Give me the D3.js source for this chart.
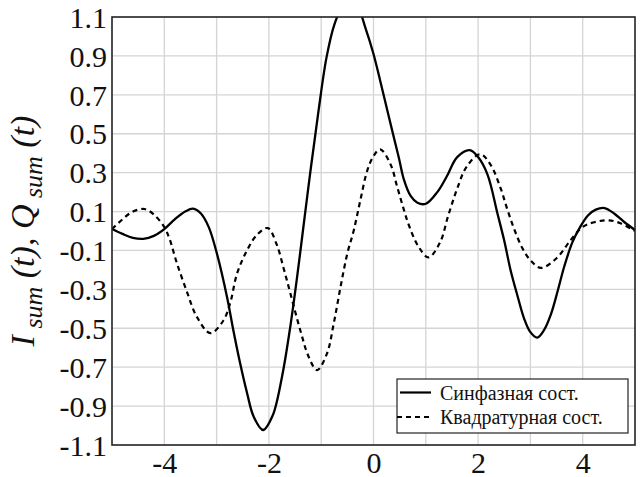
<!DOCTYPE html>
<html>
<head>
<meta charset="utf-8">
<script src="https://cdn.jsdelivr.net/npm/d3@7"></script>
<style>
  html, body { margin: 0; padding: 0; background: #fff; }
  svg { display: block; }
</style>
</head>
<body>
<svg id="chart" width="641" height="477"></svg>
<script>
// In-phase component I_sum(t): sample times and values
const tI = [-5.0, -4.8, -4.6, -4.4, -4.2, -4.0, -3.8, -3.6, -3.45, -3.3, -3.15, -3.0, -2.8, -2.68, -2.55, -2.42, -2.29, -2.11, -1.93, -1.75, -1.59, -1.46, -1.35, -1.2, -1.05, -0.9, -0.75, -0.6, -0.45, -0.3, -0.15, 0.0, 0.13, 0.26, 0.39, 0.49, 0.58, 0.71, 0.84, 1.0, 1.22, 1.4, 1.6, 1.84, 2.0, 2.18, 2.37, 2.5, 2.62, 2.75, 2.88, 3.0, 3.13, 3.26, 3.39, 3.52, 3.65, 3.8, 3.95, 4.1, 4.25, 4.42, 4.6, 4.8, 5.0];
const vI = [0.01, -0.015, -0.035, -0.04, -0.025, 0.01, 0.06, 0.1, 0.115, 0.09, 0.02, -0.11, -0.34, -0.51, -0.68, -0.83, -0.955, -1.023, -0.95, -0.75, -0.49, -0.235, 0.0, 0.32, 0.62, 0.89, 1.06, 1.15, 1.18, 1.15, 1.04, 0.91, 0.77, 0.625, 0.48, 0.37, 0.265, 0.18, 0.145, 0.14, 0.2, 0.28, 0.38, 0.416, 0.38, 0.29, 0.09, -0.05, -0.2, -0.33, -0.45, -0.52, -0.548, -0.51, -0.43, -0.31, -0.18, -0.06, 0.02, 0.08, 0.11, 0.118, 0.09, 0.045, 0.005];

// Quadrature component Q_sum(t)
const tQ = [-5.0, -4.8, -4.6, -4.38, -4.2, -4.0, -3.9, -3.76, -3.57, -3.38, -3.12, -2.87, -2.74, -2.61, -2.42, -2.23, -2.02, -1.85, -1.72, -1.59, -1.4, -1.24, -1.08, -0.89, -0.76, -0.63, -0.5, -0.38, -0.25, -0.12, 0.0, 0.13, 0.33, 0.45, 0.58, 0.68, 0.86, 1.05, 1.27, 1.43, 1.59, 1.78, 2.04, 2.24, 2.43, 2.56, 2.69, 2.85, 3.0, 3.2, 3.5, 3.76, 3.95, 4.1, 4.3, 4.5, 4.72, 5.0];
const vQ = [0.01, 0.06, 0.1, 0.113, 0.085, 0.02, -0.04, -0.165, -0.31, -0.44, -0.525, -0.46, -0.37, -0.22, -0.1, -0.02, 0.015, -0.07, -0.19, -0.32, -0.51, -0.646, -0.715, -0.63, -0.475, -0.287, -0.115, 0.0, 0.16, 0.31, 0.385, 0.42, 0.34, 0.23, 0.11, 0.027, -0.08, -0.136, -0.06, 0.08, 0.21, 0.33, 0.395, 0.34, 0.22, 0.11, 0.01, -0.09, -0.15, -0.19, -0.14, -0.05, 0.01, 0.035, 0.05, 0.055, 0.04, 0.0];

const xTicks = [-4, -2, 0, 2, 4];
const xGrid = [-4, -3, -2, -1, 0, 1, 2, 3, 4];
const yTicks = [-1.1, -0.9, -0.7, -0.5, -0.3, -0.1, 0.1, 0.3, 0.5, 0.7, 0.9, 1.1];
const seriesNames = ["Синфазная сост.", "Квадратурная сост."];

const serif = '"Liberation Serif", "Times New Roman", serif';
const svg = d3.select("#chart");
const plotL = 112, plotR = 635, plotT = 17, plotB = 445;

const x = d3.scaleLinear().domain([-5, 5]).range([plotL, plotR]);
const y = d3.scaleLinear().domain([-1.1, 1.1]).range([plotB, plotT]);

// grid
const grid = svg.append("g").attr("stroke", "#d4d4d4").attr("stroke-width", 1.3);
grid.selectAll(".gx").data(xGrid).join("line")
  .attr("x1", d => x(d)).attr("x2", d => x(d))
  .attr("y1", plotT).attr("y2", plotB);
grid.selectAll(".gy").data(yTicks.slice(1, -1)).join("line")
  .attr("x1", plotL).attr("x2", plotR)
  .attr("y1", d => y(d)).attr("y2", d => y(d));

// axes (labels only)
const yAxis = svg.append("g").attr("transform", `translate(${plotL - 5},0)`)
  .call(d3.axisLeft(y).tickValues(yTicks).tickSize(0).tickPadding(0).tickFormat(d => d.toFixed(1)));
const xAxis = svg.append("g").attr("transform", `translate(0,${plotB})`)
  .call(d3.axisBottom(x).tickValues(xTicks).tickSize(0).tickPadding(0).tickFormat(d => String(d)));
[yAxis, xAxis].forEach(a => {
  a.select(".domain").remove();
  a.selectAll("text").style("font-family", serif).attr("font-size", 30).attr("fill", "#111");
});
yAxis.selectAll("text").attr("dy", "0.34em");
xAxis.selectAll("text").attr("y", 28).attr("dy", 0);

// curves
svg.append("clipPath").attr("id", "plotClip")
  .append("rect").attr("x", plotL).attr("y", plotT).attr("width", plotR - plotL).attr("height", plotB - plotT);

const line = d3.line().x(d => x(d[0])).y(d => y(d[1])).curve(d3.curveCatmullRom.alpha(0.5));
const curves = svg.append("g").attr("clip-path", "url(#plotClip)").attr("fill", "none").attr("stroke", "#000");
curves.append("path").datum(d3.zip(tQ, vQ))
  .attr("d", line).attr("stroke-width", 2.2).attr("stroke-dasharray", "5,4");
curves.append("path").datum(d3.zip(tI, vI))
  .attr("d", line).attr("stroke-width", 2.3);

// frame
svg.append("rect").attr("x", plotL).attr("y", plotT).attr("width", plotR - plotL).attr("height", plotB - plotT)
  .attr("fill", "none").attr("stroke", "#222").attr("stroke-width", 1.6);

// y-axis title: I_sum (t), Q_sum (t)
const title = svg.append("text")
  .attr("transform", `translate(34,${(plotT + plotB) / 2}) rotate(-90)`)
  .attr("text-anchor", "middle")
  .style("font-family", serif)
  .attr("font-style", "italic").attr("font-size", 34).attr("fill", "#111");
title.append("tspan").text("I");
title.append("tspan").attr("font-size", 26).attr("dy", 8).text(" sum");
title.append("tspan").attr("dy", -8).text(" (t), Q");
title.append("tspan").attr("font-size", 26).attr("dy", 8).text(" sum");
title.append("tspan").attr("dy", -8).text(" (t)");

// legend
const lg = svg.append("g");
lg.append("rect").attr("x", 397).attr("y", 379).attr("width", 231).attr("height", 54)
  .attr("fill", "#fff").attr("stroke", "#222").attr("stroke-width", 1.2);
const rows = [{ y: 392.5, dash: null }, { y: 417, dash: "5,4" }];
rows.forEach((r, i) => {
  lg.append("line").attr("x1", i ? 397 : 400).attr("x2", 431).attr("y1", r.y).attr("y2", r.y)
    .attr("stroke", "#000").attr("stroke-width", 2.2).attr("stroke-dasharray", r.dash);
  lg.append("text").attr("x", 440).attr("y", r.y + 7)
    .style("font-family", serif)
    .attr("font-size", 20).attr("fill", "#111").text(seriesNames[i]);
});
</script>
</body>
</html>
